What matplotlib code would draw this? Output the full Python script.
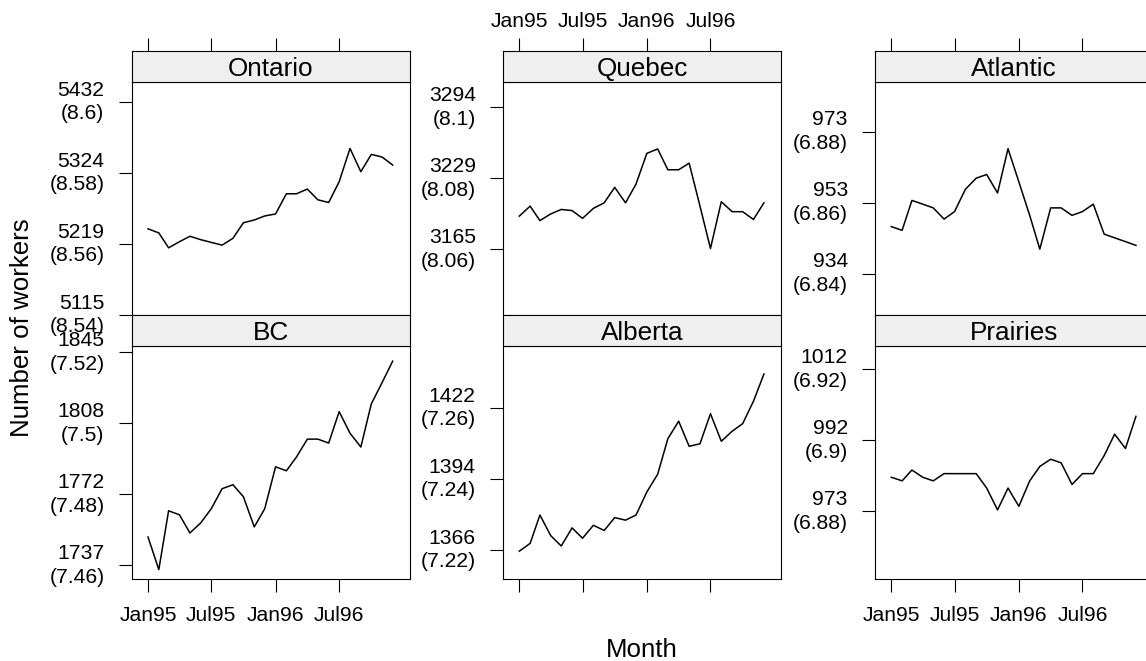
import numpy as np
import matplotlib
matplotlib.use("Agg")
import matplotlib.pyplot as plt

plt.rcParams["font.family"] = ["Liberation Sans", "DejaVu Sans"]

# Monthly employment (thousands of workers), Jan 1995 - Dec 1996
regions = ["Ontario", "Quebec", "Atlantic", "BC", "Alberta", "Prairies"]

ontario = [5241, 5235, 5213, 5222, 5230, 5225, 5221, 5217, 5227, 5250, 5254, 5260,
           5263, 5293, 5293, 5300, 5284, 5280, 5311, 5361, 5326, 5352, 5348, 5336]
quebec = [3195, 3204, 3191, 3197, 3201, 3200, 3193, 3202, 3207, 3221, 3207, 3224,
          3252, 3256, 3237, 3237, 3243, 3204, 3166, 3208, 3199, 3199, 3192, 3207]
atlantic = [947, 946, 954, 953, 952, 949, 951, 957, 960, 961, 956, 968,
            959, 950, 941, 952, 952, 950, 951, 953, 945, 944, 943, 942]
bc = [1751, 1735, 1764, 1762, 1753, 1758, 1765, 1775, 1777, 1771, 1756, 1765,
      1786, 1784, 1791, 1800, 1800, 1798, 1814, 1803, 1796, 1818, 1829, 1840]
alberta = [1366, 1369, 1380, 1372, 1368, 1375, 1371, 1376, 1374, 1379, 1378, 1380,
           1389, 1396, 1410, 1417, 1407, 1408, 1420, 1409, 1413, 1416, 1425, 1436]
prairies = [982, 981, 984, 982, 981, 983, 983, 983, 983, 979, 973, 979,
            974, 981, 985, 987, 986, 980, 983, 983, 988, 994, 990, 999]

series = [ontario, quebec, atlantic, bc, alberta, prairies]

months = np.arange("1995-01", "1997-01", dtype="datetime64[M]")
tick_months = np.array(["1995-01", "1995-07", "1996-01", "1996-07"], dtype="datetime64[M]")
tick_labels = ["Jan95", "Jul95", "Jan96", "Jul96"]

# y limits on the natural-log scale, one per panel
ylims = [(8.5400, 8.6057), (8.0415, 8.1072), (6.8284, 6.8941),
         (7.4561, 7.5218), (7.2118, 7.2775), (6.8609, 6.9266)]

origin = np.datetime64("1995-01-01")
def to_days(m):
    return (m.astype("datetime64[D]") - origin).astype(int)

x = to_days(months)
xt = to_days(tick_months)
xlim = (-46.6, 748.8)

W, H = 1146, 661
fig = plt.figure(figsize=(W / 100, H / 100), dpi=100)

def rect(left, top, w, h):
    return [left / W, 1 - (top + h) / H, w / W, h / H]

col_left = [131.7, 503.0, 875.0]
pw = 278.0
rows = [(50.7, 31.0, 233.3), (315.0, 31.0, 233.0)]

TICK_FS = 15.2
STRIP_FS = 18.8
LAB_FS = 18.6
TICK_LEN = 9.6
LW = 0.8

for i, (name, vals, (lo, hi)) in enumerate(zip(regions, series, ylims)):
    r, c = divmod(i, 3)
    strip_top, strip_h, panel_h = rows[r]
    left = col_left[c]

    ax = fig.add_axes(rect(left, strip_top + strip_h, pw, panel_h))
    ax.plot(x, np.log(vals), color="black", lw=1.1)
    ax.set_xlim(*xlim)
    ax.set_ylim(lo, hi)
    for s in ax.spines.values():
        s.set_linewidth(LW)

    k0 = int(np.ceil(lo / 0.02 - 1e-3))
    k1 = int(np.floor(hi / 0.02 + 1e-3))
    yt = [round(k * 0.02, 2) for k in range(k0, k1 + 1)]
    ax.set_yticks(yt)
    ax.set_yticklabels([f"{np.exp(t):.0f}\n({t:g})" for t in yt], fontsize=TICK_FS,
                       linespacing=1.32)
    for lab in ax.get_yticklabels():
        lab.set_verticalalignment("center")
    ax.tick_params(axis="y", left=True, right=False, length=TICK_LEN, width=LW,
                   direction="out", pad=10)

    if r == 1:
        ax.set_xticks(xt)
        ax.set_xticklabels(tick_labels if c != 1 else [""] * 4, fontsize=TICK_FS)
        ax.tick_params(axis="x", bottom=True, top=False, length=TICK_LEN, width=LW,
                       direction="out", pad=10)
    else:
        ax.set_xticks([])

    sax = fig.add_axes(rect(left, strip_top, pw, strip_h))
    sax.set_facecolor("#efefef")
    sax.set_xlim(*xlim)
    sax.set_ylim(0, 1)
    sax.set_yticks([])
    for s in sax.spines.values():
        s.set_linewidth(LW)
    sax.text(0.5, 0.42, name, transform=sax.transAxes, ha="center", va="center",
             fontsize=STRIP_FS)
    if r == 0:
        sax.xaxis.tick_top()
        sax.set_xticks(xt)
        sax.set_xticklabels(tick_labels if c == 1 else [""] * 4, fontsize=TICK_FS)
        sax.tick_params(axis="x", top=True, bottom=False, length=TICK_LEN, width=LW,
                        direction="out", pad=4.5)
    else:
        sax.set_xticks([])

fig.text(21.7 / W, 1 - 328 / H, "Number of workers", rotation=90, ha="center",
         va="center", fontsize=LAB_FS)
fig.text(641.7 / W, 1 - 650 / H, "Month", ha="center", va="center", fontsize=LAB_FS)

fig.savefig("out.png", dpi=100)
